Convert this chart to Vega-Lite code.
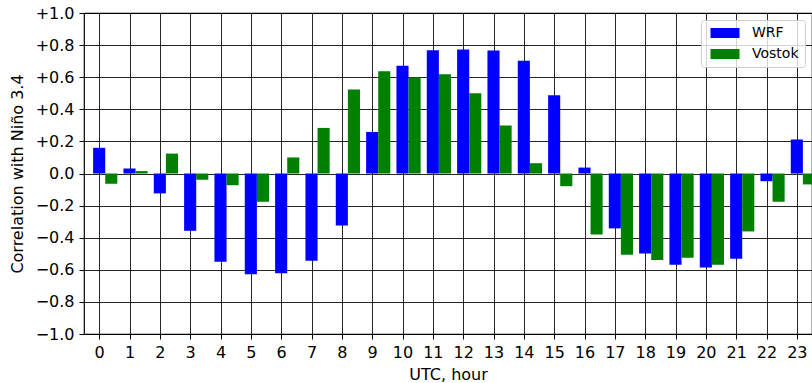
{
  "$schema": "https://vega.github.io/schema/vega-lite/v6.json",
  "width": 728,
  "height": 321,
  "autosize": {"type": "none"},
  "padding": {"left": 84, "top": 13, "right": 0, "bottom": 49},
  "background": "white",
  "config": {
    "view": {"stroke": "black", "strokeWidth": 1.2},
    "font": "DejaVu Sans",
    "axis": {
      "labelFont": "DejaVu Sans",
      "titleFont": "DejaVu Sans",
      "labelFontSize": 16,
      "titleFontSize": 16,
      "titleFontWeight": "normal",
      "labelColor": "black",
      "titleColor": "black",
      "tickColor": "black",
      "domainColor": "black",
      "gridColor": "black",
      "gridOpacity": 0.85,
      "gridWidth": 1,
      "tickSize": 5,
      "tickWidth": 1,
      "labelFlush": false,
      "labelOverlap": false
    },
    "legend": {
      "labelFont": "DejaVu Sans",
      "labelFontSize": 14,
      "labelColor": "black"
    }
  },
  "data": {
    "values": [
      {"hour": 0, "series": "WRF", "r": 0.16}, {"hour": 0, "series": "Vostok", "r": -0.064},
      {"hour": 1, "series": "WRF", "r": 0.031}, {"hour": 1, "series": "Vostok", "r": 0.015},
      {"hour": 2, "series": "WRF", "r": -0.124}, {"hour": 2, "series": "Vostok", "r": 0.124},
      {"hour": 3, "series": "WRF", "r": -0.357}, {"hour": 3, "series": "Vostok", "r": -0.039},
      {"hour": 4, "series": "WRF", "r": -0.55}, {"hour": 4, "series": "Vostok", "r": -0.073},
      {"hour": 5, "series": "WRF", "r": -0.627}, {"hour": 5, "series": "Vostok", "r": -0.176},
      {"hour": 6, "series": "WRF", "r": -0.622}, {"hour": 6, "series": "Vostok", "r": 0.10},
      {"hour": 7, "series": "WRF", "r": -0.544}, {"hour": 7, "series": "Vostok", "r": 0.284},
      {"hour": 8, "series": "WRF", "r": -0.324}, {"hour": 8, "series": "Vostok", "r": 0.523},
      {"hour": 9, "series": "WRF", "r": 0.259}, {"hour": 9, "series": "Vostok", "r": 0.637},
      {"hour": 10, "series": "WRF", "r": 0.672}, {"hour": 10, "series": "Vostok", "r": 0.598},
      {"hour": 11, "series": "WRF", "r": 0.768}, {"hour": 11, "series": "Vostok", "r": 0.618},
      {"hour": 12, "series": "WRF", "r": 0.772}, {"hour": 12, "series": "Vostok", "r": 0.50},
      {"hour": 13, "series": "WRF", "r": 0.766}, {"hour": 13, "series": "Vostok", "r": 0.299},
      {"hour": 14, "series": "WRF", "r": 0.703}, {"hour": 14, "series": "Vostok", "r": 0.064},
      {"hour": 15, "series": "WRF", "r": 0.488}, {"hour": 15, "series": "Vostok", "r": -0.079},
      {"hour": 16, "series": "WRF", "r": 0.037}, {"hour": 16, "series": "Vostok", "r": -0.38},
      {"hour": 17, "series": "WRF", "r": -0.342}, {"hour": 17, "series": "Vostok", "r": -0.506},
      {"hour": 18, "series": "WRF", "r": -0.498}, {"hour": 18, "series": "Vostok", "r": -0.539},
      {"hour": 19, "series": "WRF", "r": -0.568}, {"hour": 19, "series": "Vostok", "r": -0.525},
      {"hour": 20, "series": "WRF", "r": -0.585}, {"hour": 20, "series": "Vostok", "r": -0.568},
      {"hour": 21, "series": "WRF", "r": -0.531}, {"hour": 21, "series": "Vostok", "r": -0.361},
      {"hour": 22, "series": "WRF", "r": -0.048}, {"hour": 22, "series": "Vostok", "r": -0.176},
      {"hour": 23, "series": "WRF", "r": 0.212}, {"hour": 23, "series": "Vostok", "r": -0.068}
    ]
  },
  "encoding": {
    "x": {
      "field": "hour",
      "type": "quantitative",
      "scale": {"domain": [-0.5, 23.5], "nice": false, "zero": false, "padding": 0},
      "axis": {
        "title": "UTC, hour",
        "values": [0,1,2,3,4,5,6,7,8,9,10,11,12,13,14,15,16,17,18,19,20,21,22,23],
        "format": "d",
        "grid": true,
        "domain": false,
        "labelPadding": 5,
        "titlePadding": 6
      }
    },
    "y": {
      "field": "r",
      "type": "quantitative",
      "scale": {"domain": [-1, 1], "nice": false},
      "axis": {
        "title": "Correlation with Niño 3.4",
        "values": [-1, -0.8, -0.6, -0.4, -0.2, 0, 0.2, 0.4, 0.6, 0.8, 1],
        "labelExpr": "datum.value > 0.001 ? '+' + format(datum.value, '.1f') : (datum.value < -0.001 ? '\u2212' + format(-datum.value, '.1f') : '0.0')",
        "grid": true,
        "domain": false,
        "labelPadding": 5,
        "titlePadding": 10
      }
    },
    "color": {
      "field": "series",
      "type": "nominal",
      "scale": {"domain": ["WRF", "Vostok"], "range": ["#0000ff", "#008000"]},
      "legend": {
        "title": null,
        "orient": "top-right",
        "offset": 7,
        "fillColor": "rgba(255,255,255,0.8)",
        "strokeColor": "#cccccc",
        "cornerRadius": 3,
        "padding": 6,
        "symbolType": "M-2.636,-0.909H2.636V0.909H-2.636Z",
        "symbolSize": 121,
        "symbolOffset": 11,
        "symbolStrokeWidth": 0,
        "symbolOpacity": 1,
        "labelOffset": 20,
        "rowPadding": 7
      }
    }
  },
  "layer": [
    {
      "transform": [{"filter": "datum.series === 'WRF'"}],
      "mark": {"type": "bar", "width": 12.1, "opacity": 1}
    },
    {
      "transform": [{"filter": "datum.series === 'Vostok'"}],
      "mark": {"type": "bar", "width": 12.1, "xOffset": 12.1, "opacity": 1}
    }
  ]
}
